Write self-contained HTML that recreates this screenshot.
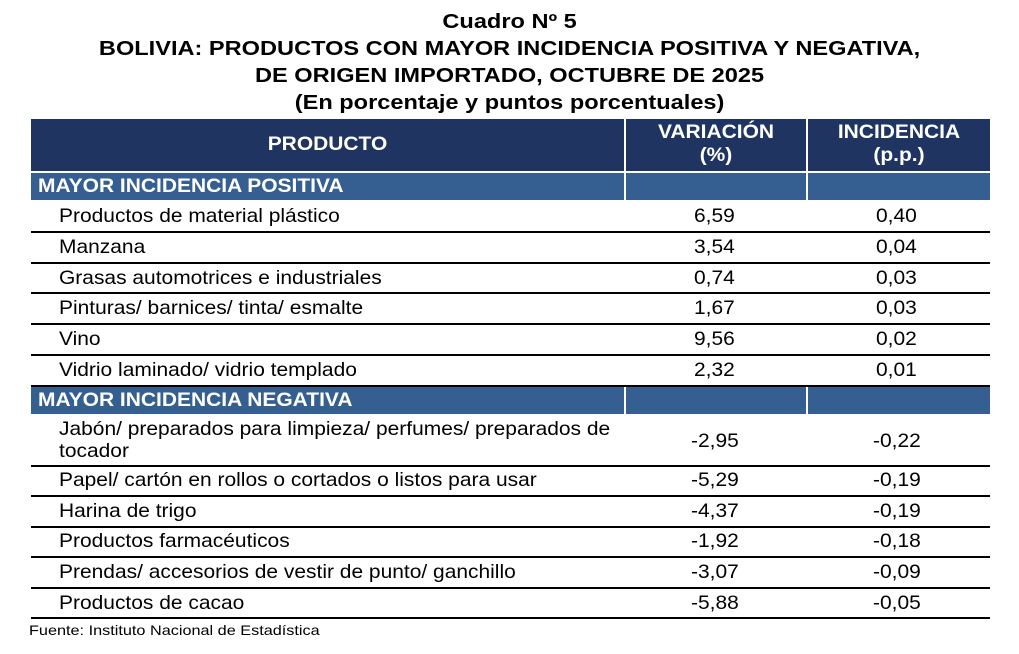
<!DOCTYPE html>
<html><head><meta charset="utf-8"><style>
body{margin:0;width:1019px;height:654px;background:#fff;position:relative;font-family:"Liberation Sans",Arial,sans-serif;color:#000;overflow:hidden}
.t{position:absolute;left:0;width:1019px;text-align:center;font-weight:bold;font-size:20.5px;line-height:27px;transform:scaleX(1.15);transform-origin:509px 0}
.b{position:absolute}
.c{position:absolute;font-size:19.5px;line-height:22px;white-space:nowrap;transform:scaleX(1.075);transform-origin:0 0}
.h{color:#fff;font-weight:bold;font-size:19.5px;position:absolute;text-align:center;line-height:23px;transform:scaleX(1.075)}
.hl{transform-origin:0 0}
.line{position:absolute;left:31px;width:959px;height:2px;background:#000}
</style></head><body>
<div class="t" style="top:8px">Cuadro Nº 5</div>
<div class="t" style="top:35px">BOLIVIA: PRODUCTOS CON MAYOR INCIDENCIA POSITIVA Y NEGATIVA,</div>
<div class="t" style="top:62px">DE ORIGEN IMPORTADO, OCTUBRE DE 2025</div>
<div class="t" style="top:89px">(En porcentaje y puntos porcentuales)</div>

<div class="b" style="left:31px;top:119px;width:593px;height:52px;background:#1f3461"></div>
<div class="b" style="left:626px;top:119px;width:180px;height:52px;background:#1f3461"></div>
<div class="b" style="left:808px;top:119px;width:182px;height:52px;background:#1f3461"></div>
<div class="h" style="left:31px;width:593px;top:133px">PRODUCTO</div>
<div class="h" style="left:626px;width:180px;top:121px">VARIACIÓN<br>(%)</div>
<div class="h" style="left:808px;width:182px;top:121px">INCIDENCIA<br>(p.p.)</div>

<div class="b" style="left:31px;top:173px;width:593px;height:27px;background:#365f91"></div>
<div class="b" style="left:626px;top:173px;width:180px;height:27px;background:#365f91"></div>
<div class="b" style="left:808px;top:173px;width:182px;height:27px;background:#365f91"></div>
<div class="h hl" style="left:38px;top:175px;text-align:left">MAYOR INCIDENCIA POSITIVA</div>

<div class="b" style="left:31px;top:387px;width:593px;height:27px;background:#365f91"></div>
<div class="b" style="left:626px;top:387px;width:180px;height:27px;background:#365f91"></div>
<div class="b" style="left:808px;top:387px;width:182px;height:27px;background:#365f91"></div>
<div class="h hl" style="left:38px;top:389px;text-align:left">MAYOR INCIDENCIA NEGATIVA</div>

<div class="line" style="top:231px"></div>
<div class="line" style="top:262px"></div>
<div class="line" style="top:292px"></div>
<div class="line" style="top:323px"></div>
<div class="line" style="top:354px"></div>
<div class="line" style="top:385px"></div>
<div class="line" style="top:465px"></div>
<div class="line" style="top:495px"></div>
<div class="line" style="top:526px"></div>
<div class="line" style="top:556px"></div>
<div class="line" style="top:587px"></div>
<div class="line" style="top:617px"></div>

<div class="c" style="left:59px;top:205px">Productos de material plástico</div><div class="c" style="left:694px;top:205px">6,59</div><div class="c" style="left:876px;top:205px">0,40</div>
<div class="c" style="left:59px;top:236px">Manzana</div><div class="c" style="left:694px;top:236px">3,54</div><div class="c" style="left:876px;top:236px">0,04</div>
<div class="c" style="left:59px;top:267px">Grasas automotrices e industriales</div><div class="c" style="left:694px;top:267px">0,74</div><div class="c" style="left:876px;top:267px">0,03</div>
<div class="c" style="left:59px;top:297px">Pinturas/ barnices/ tinta/ esmalte</div><div class="c" style="left:694px;top:297px">1,67</div><div class="c" style="left:876px;top:297px">0,03</div>
<div class="c" style="left:59px;top:328px">Vino</div><div class="c" style="left:694px;top:328px">9,56</div><div class="c" style="left:876px;top:328px">0,02</div>
<div class="c" style="left:59px;top:359px">Vidrio laminado/ vidrio templado</div><div class="c" style="left:694px;top:359px">2,32</div><div class="c" style="left:876px;top:359px">0,01</div>

<div class="c" style="left:59px;top:418px;line-height:22px">Jabón/ preparados para limpieza/ perfumes/ preparados de<br>tocador</div><div class="c" style="left:691px;top:430px">-2,95</div><div class="c" style="left:873px;top:430px">-0,22</div>
<div class="c" style="left:59px;top:469px">Papel/ cartón en rollos o cortados o listos para usar</div><div class="c" style="left:691px;top:469px">-5,29</div><div class="c" style="left:873px;top:469px">-0,19</div>
<div class="c" style="left:59px;top:500px">Harina de trigo</div><div class="c" style="left:691px;top:500px">-4,37</div><div class="c" style="left:873px;top:500px">-0,19</div>
<div class="c" style="left:59px;top:530px">Productos farmacéuticos</div><div class="c" style="left:691px;top:530px">-1,92</div><div class="c" style="left:873px;top:530px">-0,18</div>
<div class="c" style="left:59px;top:561px">Prendas/ accesorios de vestir de punto/ ganchillo</div><div class="c" style="left:691px;top:561px">-3,07</div><div class="c" style="left:873px;top:561px">-0,09</div>
<div class="c" style="left:59px;top:592px">Productos de cacao</div><div class="c" style="left:691px;top:592px">-5,88</div><div class="c" style="left:873px;top:592px">-0,05</div>

<div class="c" style="left:29px;top:622px;font-size:14px;line-height:17px;transform:scaleX(1.16)">Fuente: Instituto Nacional de Estadística</div>
</body></html>
